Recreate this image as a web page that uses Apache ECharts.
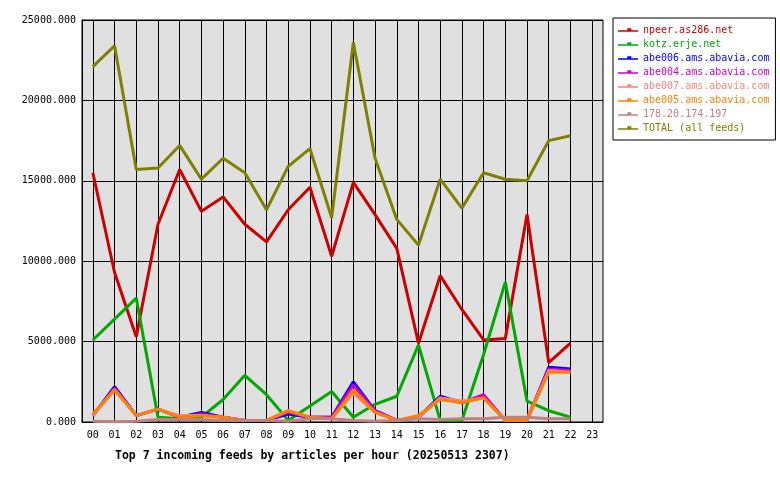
<!DOCTYPE html><html><head><meta charset="utf-8">
<script src="https://cdn.jsdelivr.net/npm/echarts@6/dist/echarts.min.js"></script>
<style>html,body{margin:0;background:#fff}#c{width:780px;height:480px}</style></head><body><div id="c"></div>
<script>
const hours=['00','01','02','03','04','05','06','07','08','09','10','11','12','13','14','15','16','17','18','19','20','21','22','23'];
const npeer=[15500,9300,5300,12300,15700,13100,14000,12300,11200,13200,14600,10300,14900,12900,10800,4900,9100,7000,5100,5200,12900,3700,4900];
const kotz=[5100,6400,7700,300,200,300,1400,2900,1700,100,1000,1900,300,1100,1600,4800,100,100,4200,8700,1300,700,300];
const abe006=[400,2200,400,800,300,600,300,100,100,500,300,300,2500,700,100,300,1600,1200,1600,100,100,3400,3300];
const abe004=[400,2100,400,800,300,500,300,100,100,600,300,300,2300,700,100,300,1500,1200,1700,100,200,3300,3200];
const abe007=[400,2000,400,800,400,400,300,100,100,700,300,200,1800,600,100,300,1500,1300,1500,100,200,3200,3100];
const abe005=[500,2000,400,800,300,400,300,100,100,700,300,200,2000,600,100,400,1400,1200,1500,100,100,3100,3100];
const ip178=[50,20,50,150,150,150,100,100,100,50,200,200,100,50,100,200,150,200,200,300,300,200,200];
const total=[22100,23400,15700,15800,17200,15100,16400,15500,13200,15900,17000,12700,23600,16400,12600,11000,15100,13300,15500,15100,15000,17500,17800];
const names=['npeer.as286.net','kotz.erje.net','abe006.ams.abavia.com','abe004.ams.abavia.com','abe007.ams.abavia.com','abe005.ams.abavia.com','178.20.174.197','TOTAL (all feeds)'];
const colors=['#cc0000','#00aa00','#0000ff','#cc00cc','#ff8080','#ff8000','#c08080','#808000'];
const datas=[npeer,kotz,abe006,abe004,abe007,abe005,ip178,total];
const font='DejaVu Sans Mono';
const series=datas.map((d,i)=>({name:names[i],type:'line',data:d,showSymbol:false,symbol:'none',
  lineStyle:{width:3,color:colors[i]},itemStyle:{color:colors[i]},z:10+i}));
series.push({type:'line',data:[],silent:true,markLine:{silent:true,symbol:'none',label:{show:false},
  lineStyle:{color:'#000',width:1,type:'solid'},data:hours.map(h=>({xAxis:h}))},z:1});
const rich={};colors.forEach((c,i)=>rich['c'+i]={color:c,fontFamily:font,fontSize:10});
const chart=echarts.init(document.getElementById('c'));
chart.setOption({animation:false,backgroundColor:'#fff',
 grid:{left:82,right:177,top:20,bottom:58,show:true,backgroundColor:'#e0e0e0',borderColor:'#000',borderWidth:1},
 title:{text:'Top 7 incoming feeds by articles per hour (20250513 2307)',left:110,top:445,
   textStyle:{fontFamily:font,fontSize:11.5,fontWeight:'bold',color:'#000'}},
 legend:{orient:'vertical',left:613,top:18,data:names,itemWidth:20,itemHeight:6,itemGap:4,padding:[7,6,7,5],
   borderColor:'#000',borderWidth:1,icon:'path://M0,4H30V6H0ZM14,1H20V6H14Z',
   textStyle:{fontFamily:font,fontSize:10,rich},
   formatter:n=>'{c'+names.indexOf(n)+'|'+n+'}'},
 xAxis:{type:'category',data:hours,boundaryGap:true,
   axisLine:{lineStyle:{color:'#000'}},axisTick:{show:false},
   axisLabel:{fontFamily:font,fontSize:10,color:'#000',interval:0,margin:8},splitLine:{show:false}},
 yAxis:{type:'value',min:0,max:25000,interval:5000,
   axisLine:{show:true,lineStyle:{color:'#000'}},axisTick:{show:false},
   axisLabel:{fontFamily:font,fontSize:10,color:'#000',formatter:v=>v.toFixed(3),margin:6},
   splitLine:{lineStyle:{color:'#000',width:1}}},
 series});
</script></body></html>
